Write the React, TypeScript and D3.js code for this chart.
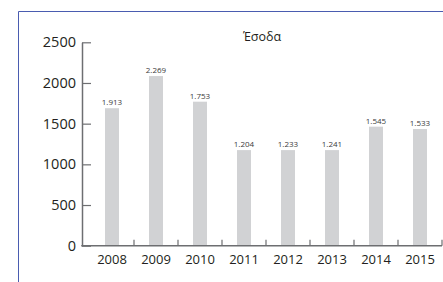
import { useEffect, useRef } from "react";
import * as d3 from "d3";

const years = ["2008", "2009", "2010", "2011", "2012", "2013", "2014", "2015"];
const values = [1690, 2085, 1770, 1175, 1175, 1175, 1463, 1434];
const valueLabels = ["1.913", "2.269", "1.753", "1.204", "1.233", "1.241", "1.545", "1.533"];
const yTicks = [0, 500, 1000, 1500, 2000, 2500];
const title = "Έσοδα";

export default function App() {
  const ref = useRef<SVGSVGElement>(null);

  useEffect(() => {
    const width = 443;
    const height = 282;
    const axisX = 82;
    const font = "'Open Sans', sans-serif";

    const svg = d3.select(ref.current);
    svg.selectAll("*").remove();

    const x = d3.scaleBand<string>()
      .domain(years)
      .range([90, 442])
      .paddingInner(0.68)
      .paddingOuter(0.34);

    const y = d3.scaleLinear([0, 2500], [245.7, 42.3]);

    // blue frame (left + top, running off the page)
    svg.append("path")
      .attr("d", `M18.5,${height}V11.5H${width + 5}`)
      .attr("fill", "none")
      .attr("stroke", "#4a5cb0")
      .attr("stroke-width", 1);

    // title
    svg.append("text")
      .attr("x", 262)
      .attr("y", 40.5)
      .attr("text-anchor", "middle")
      .attr("font-family", font)
      .attr("font-size", 12.5)
      .attr("fill", "#231f20")
      .text(title);

    // bars
    const bw = 14;
    svg.append("g")
      .selectAll("rect")
      .data(years)
      .join("rect")
      .attr("x", d => x(d)! + x.bandwidth() / 2 - bw / 2)
      .attr("width", bw)
      .attr("y", (_, i) => y(values[i]))
      .attr("height", (_, i) => y(0) - y(values[i]))
      .attr("fill", "#d1d2d4");

    // value labels
    svg.append("g")
      .selectAll("text")
      .data(years)
      .join("text")
      .attr("x", d => x(d)! + x.bandwidth() / 2)
      .attr("y", (_, i) => y(values[i]) - 2.8)
      .attr("text-anchor", "middle")
      .attr("font-family", font)
      .attr("font-size", 8)
      .attr("fill", "#3a3a3a")
      .text((_, i) => valueLabels[i]);

    // y axis
    svg.append("g")
      .attr("transform", `translate(${axisX},0)`)
      .call(d3.axisLeft(y).tickValues(yTicks).tickFormat(d3.format("d")).tickSizeInner(-9).tickSizeOuter(0).tickPadding(6))
      .call(g => g.select(".domain").attr("stroke", "#6d6e71").attr("stroke-width", 1.5))
      .call(g => g.selectAll(".tick line").attr("stroke", "#6d6e71").attr("stroke-width", 1.2))
      .call(g => g.selectAll(".tick text")
        .attr("font-family", font)
        .attr("font-size", 14.5)
        .attr("fill", "#231f20"));

    // x axis labels
    svg.append("g")
      .attr("transform", `translate(0,${y(0)})`)
      .call(d3.axisBottom(x).tickSize(0).tickPadding(9))
      .call(g => g.select(".domain").remove())
      .call(g => g.selectAll(".tick text")
        .attr("font-family", font)
        .attr("font-size", 13)
        .attr("fill", "#231f20"));

    // x baseline and boundary ticks
    svg.append("line")
      .attr("x1", axisX - 0.75)
      .attr("x2", x(years[years.length - 1])! + x.bandwidth() / 2 + x.step() / 2)
      .attr("y1", y(0))
      .attr("y2", y(0))
      .attr("stroke", "#6d6e71")
      .attr("stroke-width", 1.5);

    svg.append("g")
      .selectAll("line")
      .data(years)
      .join("line")
      .attr("x1", d => x(d)! + x.bandwidth() / 2 + x.step() / 2)
      .attr("x2", d => x(d)! + x.bandwidth() / 2 + x.step() / 2)
      .attr("y1", y(0))
      .attr("y2", y(0) - 6)
      .attr("stroke", "#6d6e71")
      .attr("stroke-width", 1.2);
  }, []);

  return (
    <svg
      ref={ref}
      width={443}
      height={282}
      style={{ position: "absolute", left: 0, top: 0, background: "#fff" }}
    />
  );
}
